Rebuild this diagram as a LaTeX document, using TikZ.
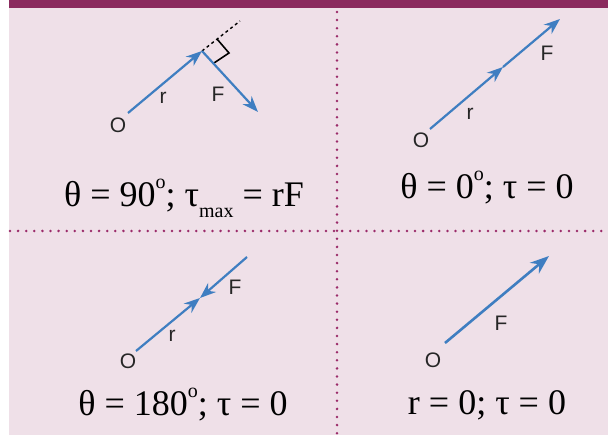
\documentclass[tikz,border=0pt]{standalone}
\usepackage{fontspec}
\setmainfont{Liberation Serif}
\setsansfont{Liberation Sans}
\usetikzlibrary{arrows.meta}
\definecolor{band}{HTML}{8B2A5E}
\definecolor{bg}{HTML}{EFE0E8}
\definecolor{vec}{HTML}{3F7EC1}
\definecolor{dots}{HTML}{9B2B6A}
\newcommand{\sups}[1]{\raisebox{0.5em}{\fontsize{20}{20}\selectfont #1}}
\newcommand{\subs}[1]{\raisebox{-0.3em}{\fontsize{20}{20}\selectfont #1}}
\begin{document}
\begin{tikzpicture}[x=1pt,y=-1pt,
  vecline/.style={draw=vec,line width=2.2pt,-{Stealth[length=16pt,width=12pt]}},
  bigvec/.style={draw=vec,line width=2.6pt,-{Stealth[length=19pt,width=14pt]}},
  lbl/.style={font=\sffamily\fontsize{21}{21}\selectfont,text=black!85,inner sep=0pt},
  formula/.style={font=\fontsize{36}{36}\selectfont,inner sep=0pt},
  dotline/.style={draw=dots,line width=2.8pt,line cap=round,dash pattern=on 0pt off 8.1pt}]
\useasboundingbox (0,0) rectangle (608,435);
\fill[white] (0,0) rectangle (608,435);
\fill[bg] (9,8) rectangle (608,435);
\fill[band] (9,0) rectangle (608,8);
\draw[dotline] (337,12) -- (337,435);
\draw[dotline] (10,231) -- (608,231);
% quadrant 1
\coordinate (o1) at (128,113);
\coordinate (p1) at (202,51);
\coordinate (f1) at (258,112);
\coordinate (d1) at (240,21);
\coordinate (m1) at (217,39);
\coordinate (c1) at (229,53);
\coordinate (n1) at (214,63);
\draw[black,line width=1.4pt,dash pattern=on 3pt off 3pt] (p1) -- (d1);
\draw[black,line width=1.6pt] (m1) -- (c1) -- (n1);
\draw[vecline] (o1) -- (p1);
\draw[vecline] (p1) -- (f1);
\node[lbl] (O1) at (118,125) {O};
\node[lbl] (r1) at (163,98) {r};
\node[lbl] (F1) at (218,94) {F};
\node[formula] (t1) at (184,198) {θ = 90\sups{o}; τ\subs{max} = rF};
% quadrant 2
\coordinate (o2) at (430,129);
\coordinate (p2) at (503,67);
\coordinate (f2) at (560,19);
\draw[vecline] (o2) -- (p2);
\draw[vecline] (p2) -- (f2);
\node[lbl] (O2) at (421,140) {O};
\node[lbl] (r2) at (470,114) {r};
\node[lbl] (F2) at (547,53) {F};
\node[formula] (t2) at (487,188) {θ = 0\sups{o}; τ = 0};
% quadrant 3
\coordinate (o3) at (136,351);
\coordinate (p3) at (200,298);
\coordinate (s3) at (247,257);
\draw[vecline] (o3) -- (p3);
\draw[vecline] (s3) -- (p3);
\node[lbl] (O3) at (128,361) {O};
\node[lbl] (r3) at (172,336) {r};
\node[lbl] (F3) at (235,287) {F};
\node[formula] (t3) at (183,405) {θ = 180\sups{o}; τ = 0};
% quadrant 4
\coordinate (o4) at (445,343);
\coordinate (f4) at (549,256);
\draw[bigvec] (o4) -- (f4);
\node[lbl] (O4) at (433,360) {O};
\node[lbl] (F4) at (501,323) {F};
\node[formula] (t4) at (487,405) {r = 0; τ = 0};
\end{tikzpicture}
\end{document}
